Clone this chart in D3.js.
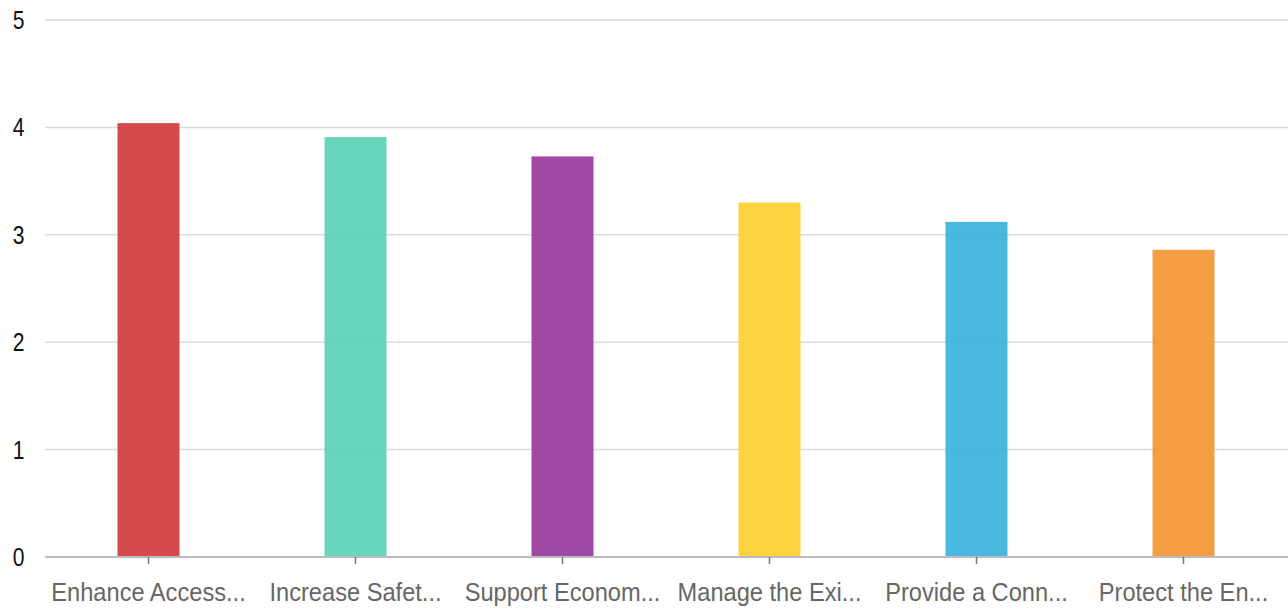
<!DOCTYPE html>
<html><head><meta charset="utf-8">
<script src="https://cdn.jsdelivr.net/npm/d3@7"></script>
<style>body{margin:0;background:#fff}svg{display:block}</style>
</head><body><svg id="c" width="1288" height="613"></svg>
<script>
const categories = ["Enhance Access...", "Increase Safet...", "Support Econom...", "Manage the Exi...", "Provide a Conn...", "Protect the En..."];
const values = [4.04, 3.91, 3.73, 3.30, 3.12, 2.86];
const colors = ["#D1363A", "#56D2B5", "#97339A", "#FDCE2E", "#35AFDB", "#F4922F"];
const yTicks = [0, 1, 2, 3, 4, 5];

const svg = d3.select("#c");
const m = {l: 45, r: 1, t: 20, b: 56};
const W = 1288, H = 613;
const x = d3.scaleBand().domain(categories).range([m.l, W - m.r]).paddingInner(0).paddingOuter(0);
const y = d3.scaleLinear().domain([0, 5]).range([H - m.b, m.t]);

const font = "'Liberation Sans', Arial, sans-serif";

// gridlines
svg.append("g").selectAll("line").data(yTicks.filter(d => d > 0)).join("line")
  .attr("x1", m.l).attr("x2", W).attr("y1", d => y(d)).attr("y2", d => y(d))
  .attr("stroke", "#dcdcdc").attr("stroke-width", 1.5);

// y labels
svg.append("g").selectAll("text").data(yTicks).join("text")
  .attr("transform", d => `translate(24.5,${y(d) + 9}) scale(0.88,1.06)`)
  .attr("text-anchor", "end").attr("font-family", font).attr("font-size", 24)
  .attr("fill", "#111").text(d => d);

// bars
const bw = 62;
svg.append("g").selectAll("rect").data(categories).join("rect")
  .attr("x", d => x(d) + x.bandwidth() / 2 - bw / 2)
  .attr("width", bw)
  .attr("y", (d, i) => y(values[i]))
  .attr("height", (d, i) => y(0) - y(values[i]))
  .attr("fill", (d, i) => colors[i]).attr("fill-opacity", 0.9);

// x axis
const xa = svg.append("g").attr("transform", `translate(0,${y(0)})`)
  .call(d3.axisBottom(x).tickSize(7).tickSizeOuter(0).tickFormat(""));
xa.select(".domain").attr("stroke", "#bbb").attr("stroke-width", 2).attr("d", `M${m.l},0H${W}`);
xa.selectAll(".tick line").attr("stroke", "#777").attr("stroke-width", 1.5);

svg.append("g").selectAll("text").data(categories).join("text")
  .attr("transform", d => `translate(${x(d) + x.bandwidth() / 2},${y(0) + 44}) scale(0.985,1.1)`)
  .attr("text-anchor", "middle").attr("font-family", font).attr("font-size", 24)
  .attr("fill", "#666").text(d => d);
</script></body></html>
